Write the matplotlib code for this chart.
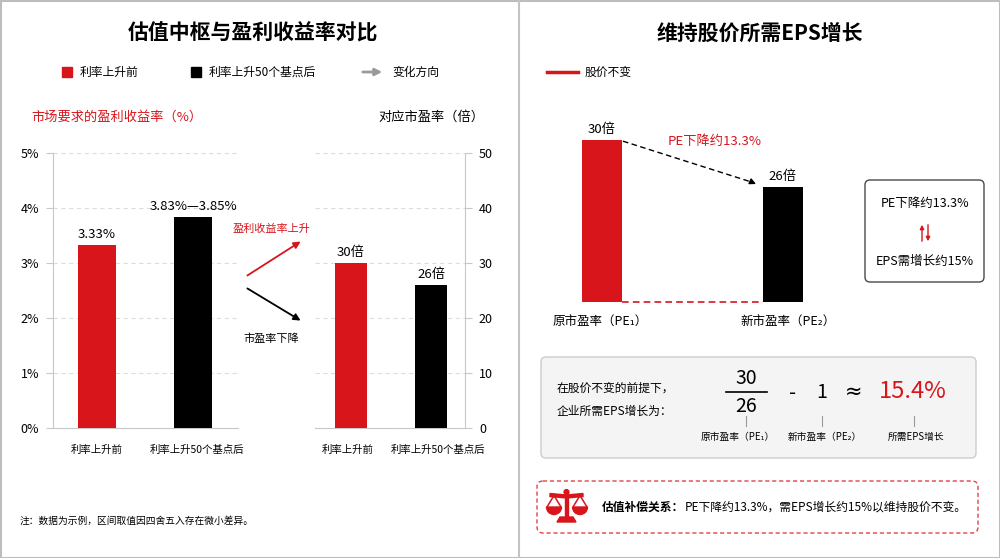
import matplotlib
matplotlib.use("Agg")
import matplotlib.pyplot as plt
from matplotlib.patches import FancyBboxPatch, Rectangle, Wedge, Polygon, Circle

plt.rcParams["font.family"] = ["Noto Sans CJK SC", "DejaVu Sans"]
plt.rcParams["axes.unicode_minus"] = False

RED = "#d7151b"
AXIS_GREY = "#c8c8c8"
GRID_GREY = "#dddddd"

# data
categories = ["利率上升前", "利率上升50个基点后"]
yield_pct = [3.33, 3.83]
yield_labels = ["3.33%", "3.83%—3.85%"]
pe_ratio = [30, 26]
pe_labels = ["30倍", "26倍"]
pe_names = ["原市盈率（PE₁）", "新市盈率（PE₂）"]
pe_drop = "13.3%"
eps_need = "15.4%"

W, H = 1000, 558
fig = plt.figure(figsize=(10, 5.58), dpi=100)


def frect(x0, y0, x1, y1):
    # pixel box (top-left origin) -> figure fraction rect
    return [x0 / W, 1 - y1 / H, (x1 - x0) / W, (y1 - y0) / H]


bg = fig.add_axes([0, 0, 1, 1])
bg.set_xlim(0, W)
bg.set_ylim(H, 0)
bg.axis("off")

# frame and divider
bg.add_patch(Rectangle((0.5, 0.5), W - 1, H - 1, fill=False, ec="#bdbdbd", lw=1.5))
bg.plot([519, 519], [0, H], color="#c4c4c4", lw=1.5)

# ---------------- left panel ----------------
bg.text(253, 33, "估值中枢与盈利收益率对比", ha="center", va="center", fontsize=15, weight="bold")

bg.add_patch(Rectangle((62, 67), 10, 10, color=RED))
bg.text(80, 72, categories[0], va="center", fontsize=8.5)
bg.add_patch(Rectangle((191, 67), 10, 10, color="black"))
bg.text(209, 72, categories[1], va="center", fontsize=8.5)
bg.annotate("", xy=(385, 72), xytext=(360, 72),
            arrowprops=dict(arrowstyle="-|>", color="#9a9a9a", lw=2, mutation_scale=10))
bg.text(392, 72, "变化方向", va="center", fontsize=8.5)

bg.text(31, 117, "市场要求的盈利收益率（%）", va="center", fontsize=9.5, color=RED)
bg.text(484, 117, "对应市盈率（倍）", va="center", ha="right", fontsize=9.5)

ax1 = fig.add_axes(frect(53, 153, 238, 428))
ax1.set_facecolor("none")
ax1.bar([0, 1], yield_pct, width=0.39, color=[RED, "black"], zorder=3)
ax1.set_xlim(-0.458, 1.469)
ax1.set_ylim(0, 5)
ax1.set_yticks(range(6))
ax1.set_yticklabels([f"{i}%" for i in range(6)])
ax1.grid(axis="y", ls=(0, (4, 3)), color=GRID_GREY, lw=0.8, zorder=0)
for s in ["top", "right"]:
    ax1.spines[s].set_visible(False)
for s in ["left", "bottom"]:
    ax1.spines[s].set_color(AXIS_GREY)
ax1.tick_params(axis="y", length=5, color=AXIS_GREY, labelsize=9, pad=5)
ax1.set_xticks([0, 1.04])
ax1.set_xticklabels(categories, fontsize=7.5)
ax1.tick_params(axis="x", length=0, pad=12)
for i, (v, lbl) in enumerate(zip(yield_pct, yield_labels)):
    ax1.annotate(lbl, (i, v), xytext=(0, 3), textcoords="offset points",
                 ha="center", va="bottom", fontsize=9.5)

ax2 = fig.add_axes(frect(315, 153, 465, 428))
ax2.set_facecolor("none")
ax2.bar([0, 1], pe_ratio, width=0.4, color=[RED, "black"], zorder=3)
ax2.set_xlim(-0.45, 1.425)
ax2.set_ylim(0, 50)
ax2.set_yticks(range(0, 51, 10))
ax2.yaxis.tick_right()
ax2.grid(axis="y", ls=(0, (4, 3)), color=GRID_GREY, lw=0.8, zorder=0)
for s in ["top", "left"]:
    ax2.spines[s].set_visible(False)
for s in ["right", "bottom"]:
    ax2.spines[s].set_color(AXIS_GREY)
ax2.tick_params(axis="y", length=5, color=AXIS_GREY, labelsize=9, pad=5)
ax2.set_xticks([-0.04, 1.09])
ax2.set_xticklabels(categories, fontsize=7.5)
ax2.tick_params(axis="x", length=0, pad=12)
for i, (v, lbl) in enumerate(zip(pe_ratio, pe_labels)):
    ax2.annotate(lbl, (i, v), xytext=(0, 3), textcoords="offset points",
                 ha="center", va="bottom", fontsize=9.5)

bg.annotate("", xy=(303, 240), xytext=(245, 277),
            arrowprops=dict(arrowstyle="-|>", color=RED, lw=1.3, mutation_scale=10))
bg.text(272, 229, "盈利收益率上升", ha="center", va="center", fontsize=8, color=RED)
bg.annotate("", xy=(303, 322), xytext=(245, 287),
            arrowprops=dict(arrowstyle="-|>", color="black", lw=1.3, mutation_scale=10))
bg.text(271, 339, "市盈率下降", ha="center", va="center", fontsize=8)

bg.text(20, 521, "注：数据为示例，区间取值因四舍五入存在微小差异。", va="center", fontsize=7)

# ---------------- right panel ----------------
bg.text(760, 33, "维持股价所需EPS增长", ha="center", va="center", fontsize=15, weight="bold")
bg.plot([547, 578], [72, 72], color=RED, lw=2.5)
bg.text(585, 72, "股价不变", va="center", fontsize=8.5)

ax3 = fig.add_axes(frect(560, 140, 830, 302))
ax3.axis("off")
ylo = 16.2
bw = 0.221
ax3.bar([0, 1], pe_ratio, width=bw, color=[RED, "black"], zorder=3)
ax3.set_xlim(-0.232, 1.26)
ax3.set_ylim(ylo, max(pe_ratio))
ax3.plot([bw / 2, 1 - bw / 2], [ylo, ylo], ls=(0, (4, 2.5)), color=RED, lw=1.2, clip_on=False)
ax3.plot([0.116, 0.83], [29.9, 26.4], ls=(0, (4, 2.5)), color="black", lw=1, clip_on=False)
ax3.annotate("", xy=(0.865, 26.15), xytext=(0.82, 26.47),
             arrowprops=dict(arrowstyle="-|>", color="black", lw=1, mutation_scale=9),
             annotation_clip=False)
for i, (v, lbl) in enumerate(zip(pe_ratio, pe_labels)):
    ax3.annotate(lbl, (i, v), xytext=(0, 3), textcoords="offset points",
                 ha="center", va="bottom", fontsize=9.5, annotation_clip=False)
bg.text(715, 142, f"PE下降约{pe_drop}", ha="center", va="center", fontsize=9.5, color=RED)
bg.text(600, 322, pe_names[0], ha="center", va="center", fontsize=9)
bg.text(788, 322, pe_names[1], ha="center", va="center", fontsize=9)

bg.add_patch(FancyBboxPatch((865, 180), 119, 102, boxstyle="round,pad=0,rounding_size=5",
                            fc="white", ec="#4a4a4a", lw=1))
bg.text(925, 204, f"PE下降约{pe_drop}", ha="center", va="center", fontsize=9)
bg.annotate("", xy=(922, 222), xytext=(922, 244),
            arrowprops=dict(arrowstyle="-|>", color=RED, lw=1, mutation_scale=6))
bg.annotate("", xy=(928, 244), xytext=(928, 222),
            arrowprops=dict(arrowstyle="-|>", color=RED, lw=1, mutation_scale=6))
bg.text(925, 261, "EPS需增长约15%", ha="center", va="center", fontsize=9)

# formula box
bg.add_patch(FancyBboxPatch((541, 357), 435, 101, boxstyle="round,pad=0,rounding_size=5",
                            fc="#f4f4f4", ec="#cccccc", lw=1))
bg.text(557, 388, "在股价不变的前提下，", va="center", fontsize=8.5)
bg.text(557, 411, "企业所需EPS增长为：", va="center", fontsize=8.5)
bg.text(746, 379, str(pe_ratio[0]), ha="center", va="center", fontsize=14)
bg.plot([726, 767], [392, 392], color="black", lw=1.2)
bg.text(746, 406, str(pe_ratio[1]), ha="center", va="center", fontsize=14)
bg.text(793, 393, "-", ha="center", va="center", fontsize=14, family="DejaVu Sans")
bg.text(822, 393, "1", ha="center", va="center", fontsize=14)
bg.text(854, 392, "≈", ha="center", va="center", fontsize=15, family="DejaVu Sans")
bg.text(913, 392, eps_need, ha="center", va="center", fontsize=17, color=RED)
for x in [746, 822, 914]:
    bg.plot([x, x], [416, 426], color="#9a9a9a", lw=0.8)
for x, lbl in zip([738, 825, 916], pe_names + ["所需EPS增长"]):
    bg.text(x, 437, lbl, ha="center", va="center", fontsize=7)

# compensation box
bg.add_patch(FancyBboxPatch((537, 481), 441, 52, boxstyle="round,pad=0,rounding_size=6",
                            fill=False, ec=RED, lw=1, ls=(0, (3, 2)), alpha=0.8))
# balance icon
bg.add_patch(Circle((566.5, 492), 2.4, color=RED))
bg.add_patch(Rectangle((565, 492), 3, 27, color=RED))
bg.add_patch(Polygon([(550, 493.5), (566.5, 495), (583, 493.5), (583, 496.5),
                      (566.5, 498), (550, 496.5)], closed=True, color=RED))
for cx in (554, 580):
    bg.add_patch(Polygon([(cx - 7, 507), (cx, 495.5), (cx + 7, 507)], closed=False,
                         fill=False, ec=RED, lw=1.1))
    bg.add_patch(Wedge((cx, 507), 7.5, 0, 180, color=RED))
bg.add_patch(Polygon([(560, 517), (573, 517), (576, 522), (557, 522)], closed=True, color=RED))

t1 = bg.text(602, 507, "估值补偿关系：", va="center", fontsize=8.5, weight="bold")
fig.canvas.draw()
bb = t1.get_window_extent(fig.canvas.get_renderer())
x_next = bb.x1 + 1  # pixel units at dpi 100 match data units
bg.text(x_next, 507, f"PE下降约{pe_drop}，需EPS增长约15%以维持股价不变。", va="center", fontsize=8.5)

fig.savefig("out.png", dpi=100)
